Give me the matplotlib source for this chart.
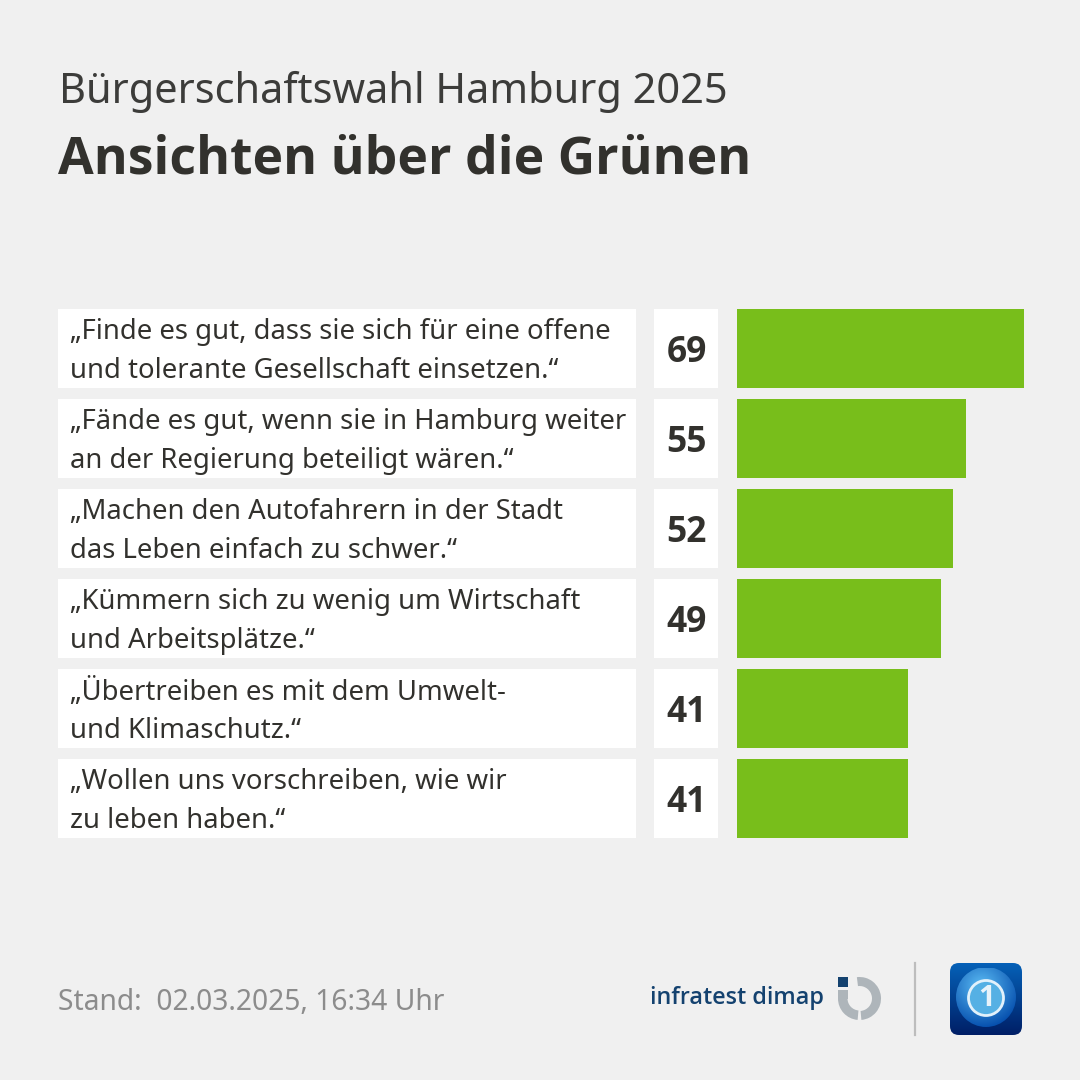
import numpy as np
import matplotlib
matplotlib.use("Agg")
import matplotlib.pyplot as plt
from matplotlib.patches import Rectangle, Wedge, Circle, FancyBboxPatch

title_top = "Bürgerschaftswahl Hamburg 2025"
title_main = "Ansichten über die Grünen"
statements = [
    "„Finde es gut, dass sie sich für eine offene\nund tolerante Gesellschaft einsetzen.“",
    "„Fände es gut, wenn sie in Hamburg weiter\nan der Regierung beteiligt wären.“",
    "„Machen den Autofahrern in der Stadt\ndas Leben einfach zu schwer.“",
    "„Kümmern sich zu wenig um Wirtschaft\nund Arbeitsplätze.“",
    "„Übertreiben es mit dem Umwelt-\nund Klimaschutz.“",
    "„Wollen uns vorschreiben, wie wir\nzu leben haben.“",
]
values = [69, 55, 52, 49, 41, 41]
stand = "Stand:  02.03.2025, 16:34 Uhr"
source = "infratest dimap"

BG = "#f0f0f0"; DARK = "#32312d"; GREEN = "#78be1b"
FONT = "Noto Sans"; BOLD = "Open Sans"
plt.rcParams["font.family"] = [FONT, "DejaVu Sans"]

fig = plt.figure(figsize=(10.8, 10.8), dpi=100, facecolor=BG)
bg = fig.add_axes([0, 0, 1, 1]); bg.axis("off")

bg.text(59, 92, title_top, fontsize=29.9, color="#3c3c3a", va="center", ha="left")
bg.text(58, 160, title_main, fontsize=37.3, family=BOLD, fontweight="bold", color=DARK, va="center", ha="left")

pitch, h, top = 90, 79, 309
for i, (s, v) in enumerate(zip(statements, values)):
    y = top + i * pitch
    bg.add_patch(Rectangle((58, y), 578, h, fc="white", ec="none"))
    bg.add_patch(Rectangle((654, y), 64, h, fc="white", ec="none"))
    a, b = s.split("\n")
    bg.text(70, y + 23, a, fontsize=19.8, color=DARK, va="center", ha="left")
    bg.text(70, y + 62, b, fontsize=19.8, color=DARK, va="center", ha="left")
    bg.text(686.5, y + 44, str(v), fontsize=25.5, family=BOLD, fontweight="bold", color=DARK, va="center", ha="center")

# bars on their own value scale
ax = fig.add_axes([737/1080, 1 - 838/1080, 287/1080, 529/1080])
ax.barh(range(len(values)), values, height=h/pitch, color=GREEN)
ax.set_xlim(0, max(values))
ax.set_ylim(len(values) - 1 + h/pitch/2, -h/pitch/2)
ax.axis("off")

bg.text(58, 1003, stand, fontsize=20.3, color="#8c8c8c", va="center", ha="left")
bg.text(650, 998, source, fontsize=16.8, family=BOLD, fontweight="semibold", color="#14426f", va="center", ha="left")

# infratest dimap mark
cx, cy = 859.5, 998.5
GREY = "#aeb5ba"
bg.add_patch(Rectangle((838, 977), 10, 10, fc="#14426f", ec="none"))
bg.add_patch(Wedge((cx, cy), 21.5, -97, 85, width=9, fc=GREY, ec="none"))
bg.add_patch(Wedge((cx, cy), 21.5, 95, 180, width=9.5, fc=GREY, ec="none"))
bg.add_patch(Rectangle((838, 990), 10, 9, fc=GREY, ec="none"))
bg.add_line(plt.Line2D([915, 915], [963, 1035], color="#bdbdbd", lw=1.6))

# broadcaster icon: rounded blue tile, globe, ringed numeral
n = 144
yy, xx = np.mgrid[0:1:n*1j, 0:1:n*1j]
tile_top, tile_bot = np.array([0.02, 0.38, 0.72]), np.array([0.0, 0.12, 0.40])
tile = tile_top * (1 - yy[..., None]) + tile_bot * yy[..., None]
im = bg.imshow(tile, extent=(950, 1022, 1035, 963), aspect="auto", zorder=2)
rr = FancyBboxPatch((958, 971), 56, 56, boxstyle="round,pad=8,rounding_size=9",
                    transform=bg.transData, fc="none", ec="none")
bg.add_patch(rr); im.set_clip_path(rr)

d = np.hypot(xx - 0.42, yy - 0.30)[..., None]
t = np.clip(d / 0.75, 0, 1)
globe = np.array([0.36, 0.74, 0.96]) * (1 - t) + np.array([0.0, 0.28, 0.66]) * t
gim = bg.imshow(globe, extent=(956, 1016, 1028, 968), aspect="auto", zorder=3)
gc = Circle((986, 997), 30, transform=bg.transData, fc="none", ec="none")
bg.add_patch(gc); gim.set_clip_path(gc)
bg.add_patch(Circle((986, 998), 17.5, fc="#55b0e4", ec="#e2f1fb", lw=2, zorder=4))
bg.text(986.5, 998, "1", fontsize=21, family=BOLD, fontweight="bold", color="#e8f3fa", ha="center", va="center", zorder=5)

bg.set_xlim(0, 1080); bg.set_ylim(1080, 0)
fig.savefig("out.png", dpi=100, facecolor=BG)
